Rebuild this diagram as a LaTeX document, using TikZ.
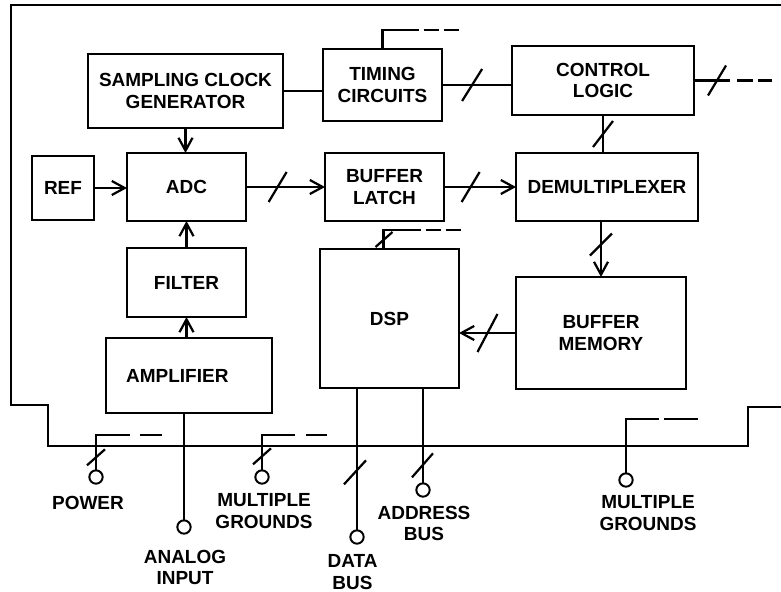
\documentclass[tikz,border=0pt]{standalone}
\usepackage{fontspec}
\setmainfont{Liberation Sans}
\usetikzlibrary{arrows.meta, positioning, calc}

\begin{document}
\begin{tikzpicture}[
    x=0.03cm, y=-0.03cm,
    every node/.style={font=\bfseries\fontsize{16.2}{18.5}\selectfont},
    box/.style={draw, line width=1.9pt, rectangle, align=center, inner sep=0pt, outer sep=0pt},
    term/.style={draw, circle, line width=1.7pt, fill=white, minimum size=0.4cm, inner sep=0pt, outer sep=0pt},
    lbl/.style={align=center, inner sep=0pt},
    wire/.style={line width=1.9pt},
    arr/.style={wire, -{Straight Barb[length=11pt, width=12pt]}}
]
\useasboundingbox (0,0) rectangle (781,592);

% Enclosure and bus outline
\draw[wire] (781,5) -- (11,5) -- (11,405) -- (48,405) -- (48,446) -- (748,446) -- (748,407) -- (781,407);

% Blocks
\node[box, minimum width=5.85cm, minimum height=2.22cm] (scg) at (185.5,91) {SAMPLING CLOCK\\GENERATOR};
\node[box, minimum width=3.57cm, minimum height=2.16cm] (tim) at (382.5,85) {TIMING\\CIRCUITS};
\node[box, minimum width=5.46cm, minimum height=2.07cm] (ctl) at (603,80.5) {CONTROL\\LOGIC};
\node[box, minimum width=1.86cm, minimum height=1.92cm] (ref) at (63,188) {REF};
\node[box, minimum width=3.57cm, minimum height=2.04cm] (adc) at (186.5,187) {ADC};
\node[box, minimum width=3.57cm, minimum height=2.04cm] (latch) at (384.5,187) {BUFFER\\LATCH};
\node[box, minimum width=5.46cm, minimum height=2.04cm] (demux) at (607,187) {DEMULTIPLEXER};
\node[box, minimum width=3.57cm, minimum height=2.07cm] (filt) at (186.5,282.5) {FILTER};
\node[box, minimum width=4.98cm, minimum height=2.25cm] (amp) at (189,375.5) {AMPLIFIER\hspace*{0.7cm}};
\node[box, minimum width=4.17cm, minimum height=4.17cm] (dsp) at (389.5,318.5) {DSP};
\node[box, minimum width=5.1cm, minimum height=3.36cm] (bmem) at (601,333) {BUFFER\\MEMORY};

% Terminals
\node[term] (pwr) at (96,477) {};
\node[term] (ain) at (184,527) {};
\node[term] (gndl) at (262,477) {};
\node[term] (dbus) at (357,537) {};
\node[term] (abus) at (423,490) {};
\node[term] (gndr) at (626,480) {};

% Terminal labels
\node[lbl] (lpwr) at (88,503) {POWER};
\node[lbl] (lain) at (185,567.5) {ANALOG\\INPUT};
\node[lbl] (lgndl) at (264,511) {MULTIPLE\\GROUNDS};
\node[lbl] (ldbus) at (352.5,572) {DATA\\BUS};
\node[lbl] (labus) at (424,523.5) {ADDRESS\\BUS};
\node[lbl] (lgndr) at (648,513) {MULTIPLE\\GROUNDS};

% Clock and control
\draw[wire] (scg.east) -- (scg.east -| tim.west);
\draw[wire] (tim.east) -- coordinate[pos=0.43] (s1) (tim.east -| ctl.west);
\draw[wire] (s1) ++(-10,16) -- ++(20,-32);
\draw[wire] (tim.north) -- ++(0,-19) -- ++(36,0) ++(5,0) -- ++(15,0) ++(5,0) -- ++(15,0);
\draw[wire] (ctl.east) -- ++(23,0) coordinate (s2) -- ++(13,0) ++(7,0) -- ++(16,0) ++(5,0) -- ++(14,0);
\draw[wire] (s2) ++(-9,15) -- ++(18,-30);
\draw[wire] (ctl.south) -- coordinate (s3) (ctl.south |- demux.north);
\draw[wire] (s3) ++(-10,13) -- ++(20,-26);

% Signal path
\draw[arr] (scg.south) -- (scg.south |- adc.north);
\draw[arr] (ref.east) -- (ref.east -| adc.west);
\draw[arr] (filt.north) -- (adc.south);
\draw[arr] (amp.north -| filt.south) -- (filt.south);
\draw[arr] (adc.east) -- coordinate[pos=0.4] (s4) (latch.west);
\draw[wire] (s4) ++(-9,15) -- ++(18,-30);
\draw[arr] (latch.east) -- coordinate[pos=0.37] (s5) (demux.west);
\draw[wire] (s5) ++(-9,15) -- ++(18,-30);
\draw[arr] (bmem.north |- demux.south) -- coordinate[pos=0.42] (s6) (bmem.north);
\draw[wire] (s6) ++(-11,11) -- ++(22,-22);
\draw[arr] (bmem.west) -- coordinate (s7) (bmem.west -| dsp.east);
\draw[wire] (s7) ++(-10,19) -- ++(20,-38);

% DSP control port
\draw[wire] ([xshift=-0.18cm]dsp.north) -- ++(0,-9) coordinate (s8) -- ++(0,-10) -- ++(37,0) ++(5,0) -- ++(15,0) ++(5,0) -- ++(15,0);
\draw[wire] (s8) ++(-8,7) -- ++(17,-15);

% Bus connections
\draw[wire] (pwr.north) -- ++(0,-13) coordinate (s9) -- ++(0,-22) -- ++(34,0) ++(10,0) -- ++(22,0);
\draw[wire] (s9) ++(-9,8) -- ++(18,-16);
\draw[wire] (gndl.north) -- ++(0,-14) coordinate (s10) -- ++(0,-21) -- ++(33,0) ++(11,0) -- ++(21,0);
\draw[wire] (s10) ++(-9,8) -- ++(18,-16);
\draw[wire] (gndr.north) -- ++(0,-54) -- ++(33,0) ++(5,0) -- ++(34,0);
\draw[wire] (ain |- amp.south) -- (ain.north);
\draw[wire] (dbus |- dsp.south) -- (dbus.north);
\draw[wire] (dbus.north) ++(-13,-46) -- ++(22,-24);
\draw[wire] (abus |- dsp.south) -- (abus.north);
\draw[wire] (abus.north) ++(-11,-6) -- ++(21,-24);
\end{tikzpicture}
\end{document}
